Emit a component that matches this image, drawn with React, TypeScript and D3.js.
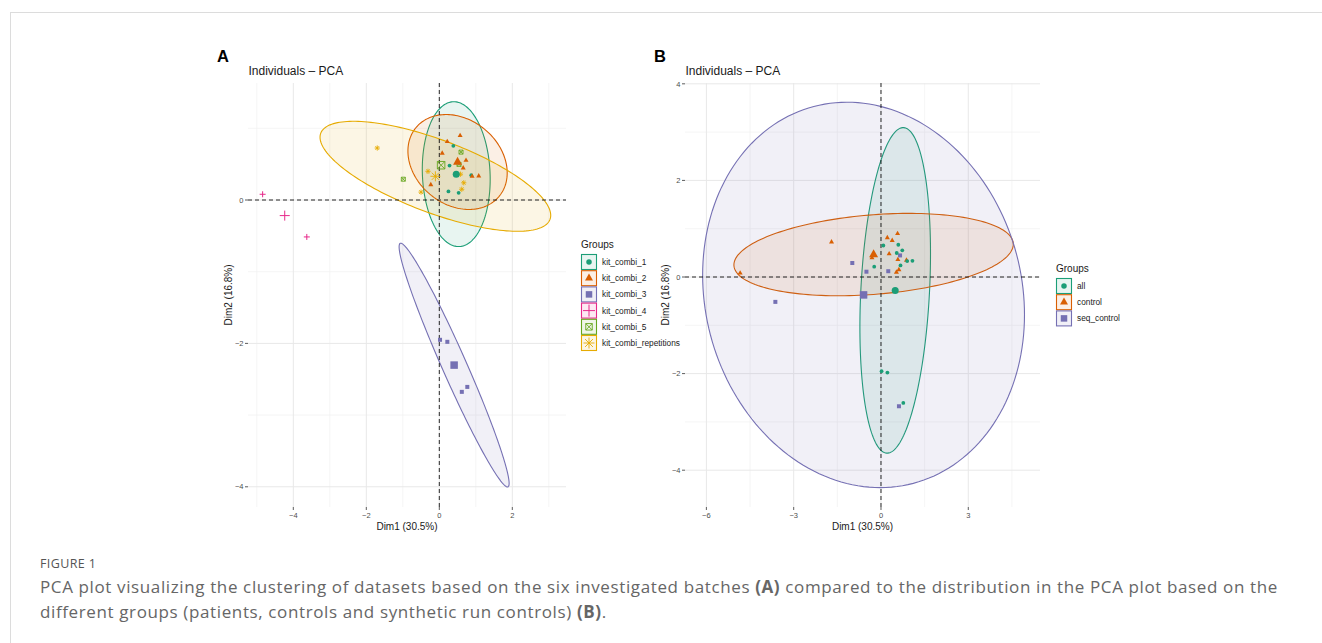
import * as d3 from 'd3';

// individuals on the first two dimensions (same PCA in both panels)
const dim1 = [-4.84, -3.63, -1.7, -0.31, -0.5, 0.58, 0.67, 0.615, 0.385, 0.28, 0.875, 0.25, 0.53, 0.57, 0.218, 0.08, 0.732, 0.655, 0.9, 1.08, -0.233, 0.595, -0.986, 0.54, 0.02, 0.22, 0.767, 0.617];
const dim2 = [0.08, -0.515, 0.725, 0.4, 0.11, 0.36, 0.24, 0.15, 0.756, 0.48, 0.347, 0.12, 0.1, 0.898, 0.814, 0.652, 0.553, 0.447, 0.33, 0.335, 0.213, 0.668, 0.29, 0.497, -1.95, -1.978, -2.607, -2.676];
const batch = [
  'kit_combi_4', 'kit_combi_4', 'kit_combi_repetitions', 'kit_combi_repetitions', 'kit_combi_repetitions',
  'kit_combi_repetitions', 'kit_combi_repetitions', 'kit_combi_repetitions', 'kit_combi_1', 'kit_combi_1',
  'kit_combi_1', 'kit_combi_1', 'kit_combi_1', 'kit_combi_2', 'kit_combi_2', 'kit_combi_2', 'kit_combi_2',
  'kit_combi_2', 'kit_combi_2', 'kit_combi_2', 'kit_combi_2', 'kit_combi_5', 'kit_combi_5', 'kit_combi_5',
  'kit_combi_3', 'kit_combi_3', 'kit_combi_3', 'kit_combi_3',
];
const group = [
  'control', 'seq_control', 'control', 'control', 'seq_control', 'control', 'all', 'control', 'control',
  'control', 'control', 'seq_control', 'control', 'control', 'control', 'all', 'all', 'seq_control', 'all',
  'all', 'all', 'all', 'seq_control', 'all', 'all', 'all', 'all', 'seq_control',
];

const batchLevels = ['kit_combi_1', 'kit_combi_2', 'kit_combi_3', 'kit_combi_4', 'kit_combi_5', 'kit_combi_repetitions'];
const batchColors = ['#1B9E77', '#D95F02', '#7570B3', '#E7298A', '#66A61E', '#E6AB02'];
const batchShapes = ['circle', 'triangle', 'square', 'plus', 'boxx', 'asterisk'];

const groupLevels = ['all', 'control', 'seq_control'];
const groupColors = ['#1B9E77', '#D95F02', '#7570B3'];
const groupShapes = ['circle', 'triangle', 'square'];

// ellipse spread: half width, half height (data units), correlation
const ellipsesA = [
  { level: 'kit_combi_1', hw: 0.93, hh: 1.01, r: -0.07 },
  { level: 'kit_combi_2', hw: 1.36, hh: 0.662, r: -0.23 },
  { level: 'kit_combi_3', hw: 1.507, hh: 1.70, r: -0.97 },
  { level: 'kit_combi_repetitions', hw: 3.16, hh: 0.767, r: -0.71 },
];
const ellipsesB = [
  { level: 'all', hw: 1.213, hh: 3.37, r: 0.227 },
  { level: 'control', hw: 4.8, hh: 0.853, r: 0.251 },
  { level: 'seq_control', hw: 5.53, hh: 3.99, r: -0.103 },
];

const ticksAx = [-4, -2, 0, 2];
const minorAx = [-5, -3, -1, 1, 3];
const ticksAy = [-4, -2, 0];
const minorAy = [-3, -1, 1];
const ticksBx = [-6, -3, 0, 3];
const minorBx = [-4.5, -1.5, 1.5, 4.5];
const ticksBy = [-4, -2, 0, 2, 4];
const minorBy = [-3, -1, 1, 3];

const FONT = '"Liberation Sans", Arial, Helvetica, sans-serif';
const fmt = d3.format('');

function Marker({ shape, x, y, s, color }: any) {
  if (shape === 'circle') return <circle cx={x} cy={y} r={s / 2} fill={color} />;
  if (shape === 'triangle') {
    const h = s * 0.88;
    return <path d={`M${x},${y - (h * 2) / 3}L${x - s / 2},${y + h / 3}L${x + s / 2},${y + h / 3}Z`} fill={color} />;
  }
  if (shape === 'square') return <rect x={x - s / 2} y={y - s / 2} width={s} height={s} fill={color} />;
  if (shape === 'plus') {
    const a = s / 2;
    return <path d={`M${x - a},${y}H${x + a}M${x},${y - a}V${y + a}`} stroke={color} strokeWidth={1} fill="none" />;
  }
  if (shape === 'boxx') {
    const a = s / 2;
    return (
      <path
        d={`M${x - a},${y - a}H${x + a}V${y + a}H${x - a}ZM${x - a},${y - a}L${x + a},${y + a}M${x + a},${y - a}L${x - a},${y + a}`}
        stroke={color}
        strokeWidth={0.9}
        fill="none"
      />
    );
  }
  const a = s / 2;
  const d = a * 0.72;
  return (
    <path
      d={`M${x - a},${y}H${x + a}M${x},${y - a}V${y + a}M${x - d},${y - d}L${x + d},${y + d}M${x + d},${y - d}L${x - d},${y + d}`}
      stroke={color}
      strokeWidth={0.9}
      fill="none"
    />
  );
}

const smallSize: any = { circle: 3.8, triangle: 5, square: 4, plus: 6, boxx: 4, asterisk: 5.2 };
const bigSize: any = { circle: 7, triangle: 9, square: 7.5, plus: 10, boxx: 7.5, asterisk: 10 };
const keySize: any = { circle: 5.5, triangle: 8, square: 6.5, plus: 12, boxx: 6.5, asterisk: 11 };

function Panel({ box, xDomain, yDomain, ticksX, minorX, ticksY, minorY, groupOf, levels, colors, shapes, ellipses, label, legendX, legendY }: any) {
  const x = d3.scaleLinear().domain(xDomain).range([box.left, box.right]);
  const y = d3.scaleLinear().domain(yDomain).range([box.bottom, box.top]);
  const idx = d3.range(dim1.length);

  const centroid = (lv: string) => {
    const m = idx.filter((i) => groupOf[i] === lv);
    return [d3.mean(m, (i) => dim1[i]) as number, d3.mean(m, (i) => dim2[i]) as number];
  };

  const line = d3.line<[number, number]>().x((d) => x(d[0])).y((d) => y(d[1])).curve(d3.curveLinearClosed);
  const ellipsePath = (e: any) => {
    const [cx, cy] = centroid(e.level);
    const pts: [number, number][] = d3.range(0, 2 * Math.PI, Math.PI / 90).map((t) => [
      cx + e.hw * Math.cos(t),
      cy + e.r * e.hh * Math.cos(t) + e.hh * Math.sqrt(1 - e.r * e.r) * Math.sin(t),
    ]);
    return line(pts) as string;
  };
  const colorOf = (lv: string) => colors[levels.indexOf(lv)];
  const shapeOf = (lv: string) => shapes[levels.indexOf(lv)];

  return (
    <g fontFamily={FONT}>
      <text x={box.left - 31} y={62} fontSize={16.5} fontWeight="bold" fill="#000">{label}</text>
      <text x={box.left + 0.5} y={75} fontSize={12} fill="#1a1a1a">Individuals – PCA</text>
      {minorX.map((t: number) => (
        <line key={'mx' + t} x1={x(t)} x2={x(t)} y1={box.top} y2={box.bottom} stroke="#f1f1f1" strokeWidth={0.7} />
      ))}
      {minorY.map((t: number) => (
        <line key={'my' + t} y1={y(t)} y2={y(t)} x1={box.left} x2={box.right} stroke="#f1f1f1" strokeWidth={0.7} />
      ))}
      {ticksX.map((t: number) => (
        <line key={'gx' + t} x1={x(t)} x2={x(t)} y1={box.top} y2={box.bottom} stroke="#e8e8e8" strokeWidth={1} />
      ))}
      {ticksY.map((t: number) => (
        <line key={'gy' + t} y1={y(t)} y2={y(t)} x1={box.left} x2={box.right} stroke="#e8e8e8" strokeWidth={1} />
      ))}
      {ellipses.map((e: any) => (
        <path key={e.level} d={ellipsePath(e)} fill={colorOf(e.level)} fillOpacity={0.1} stroke={colorOf(e.level)} strokeWidth={1.1} />
      ))}
      <line x1={x(0)} x2={x(0)} y1={box.top} y2={box.bottom} stroke="#111" strokeWidth={0.9} strokeDasharray="4,3" />
      <line y1={y(0)} y2={y(0)} x1={box.left} x2={box.right} stroke="#111" strokeWidth={0.9} strokeDasharray="4,3" />
      {idx.map((i) => (
        <Marker key={'p' + i} shape={shapeOf(groupOf[i])} x={x(dim1[i])} y={y(dim2[i])} s={smallSize[shapeOf(groupOf[i])]} color={colorOf(groupOf[i])} />
      ))}
      {levels.map((lv: string) => {
        const [cx, cy] = centroid(lv);
        return <Marker key={'c' + lv} shape={shapeOf(lv)} x={x(cx)} y={y(cy)} s={bigSize[shapeOf(lv)]} color={colorOf(lv)} />;
      })}
      {ticksX.map((t: number) => (
        <g key={'tx' + t}>
          <line x1={x(t)} x2={x(t)} y1={box.bottom} y2={box.bottom + 3} stroke="#333" strokeWidth={0.8} />
          <text x={x(t)} y={box.bottom + 11} fontSize={7.5} fill="#4d4d4d" textAnchor="middle">{fmt(t)}</text>
        </g>
      ))}
      {ticksY.map((t: number) => (
        <g key={'ty' + t}>
          <line x1={box.left - 3} x2={box.left} y1={y(t)} y2={y(t)} stroke="#333" strokeWidth={0.8} />
          <text x={box.left - 4.5} y={y(t) + 2.7} fontSize={7.5} fill="#4d4d4d" textAnchor="end">{fmt(t)}</text>
        </g>
      ))}
      <text x={(box.left + box.right) / 2} y={529.5} fontSize={10} fill="#1a1a1a" textAnchor="middle">Dim1 (30.5%)</text>
      <text transform={`translate(${box.left - 16.5},${(box.top + box.bottom) / 2}) rotate(-90)`} fontSize={10} fill="#1a1a1a" textAnchor="middle">Dim2 (16.8%)</text>
      <text x={legendX} y={legendY} fontSize={10} fill="#1a1a1a">Groups</text>
      {levels.map((lv: string, k: number) => {
        const cy = legendY + 14.5 + k * 16.2;
        return (
          <g key={'l' + lv}>
            <rect x={legendX + 0.5} y={cy - 7.5} width={15} height={15} fill={colorOf(lv)} fillOpacity={0.1} stroke={colorOf(lv)} strokeWidth={1.1} />
            <Marker shape={shapeOf(lv)} x={legendX + 8} y={cy} s={keySize[shapeOf(lv)]} color={colorOf(lv)} />
            <text x={legendX + 21} y={cy + 2.9} fontSize={8.3} fill="#1a1a1a">{lv}</text>
          </g>
        );
      })}
    </g>
  );
}

export default function App() {
  return (
    <svg width={1322} height={643} style={{ position: 'absolute', left: 0, top: 0, background: '#fff' }}>
      <line x1={10} x2={1322} y1={12.5} y2={12.5} stroke="#dcdcdc" />
      <line x1={10.5} x2={10.5} y1={12} y2={643} stroke="#dcdcdc" />
      <Panel
        box={{ left: 248, right: 566, top: 83, bottom: 507 }}
        xDomain={[-5.241, 3.471]}
        yDomain={[-4.282, 1.632]}
        ticksX={ticksAx}
        minorX={minorAx}
        ticksY={ticksAy}
        minorY={minorAy}
        groupOf={batch}
        levels={batchLevels}
        colors={batchColors}
        shapes={batchShapes}
        ellipses={ellipsesA}
        label="A"
        legendX={581}
        legendY={247.5}
      />
      <Panel
        box={{ left: 685, right: 1040, top: 83, bottom: 507 }}
        xDomain={[-6.735, 5.464]}
        yDomain={[-4.762, 4.017]}
        ticksX={ticksBx}
        minorX={minorBx}
        ticksY={ticksBy}
        minorY={minorBy}
        groupOf={group}
        levels={groupLevels}
        colors={groupColors}
        shapes={groupShapes}
        ellipses={ellipsesB}
        label="B"
        legendX={1056}
        legendY={271.5}
      />
      <g fontFamily='"Open Sans", "Noto Sans", sans-serif'>
        <text x={40} y={568} fontSize={12.5} fill="#555" letterSpacing={0.4}>FIGURE 1</text>
        <text x={40} y={592.5} fontSize={17} fill="#666" letterSpacing={0.62}>
          PCA plot visualizing the clustering of datasets based on the six investigated batches <tspan fontWeight="bold">(A)</tspan> compared to the distribution in the PCA plot based on the
        </text>
        <text x={40} y={617.5} fontSize={17} fill="#666" letterSpacing={0.62}>
          different groups (patients, controls and synthetic run controls) <tspan fontWeight="bold">(B)</tspan>.
        </text>
      </g>
    </svg>
  );
}
